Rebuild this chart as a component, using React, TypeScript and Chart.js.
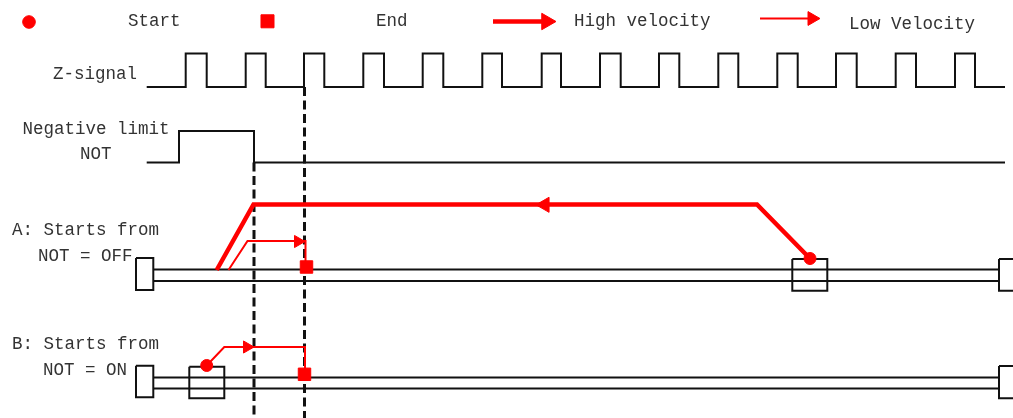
import React, { useEffect, useRef } from "react";
import { Chart, registerables } from "chart.js";

Chart.register(...registerables);

// ---- Coordinate frame (diagram units) ----
const X_RANGE = [0, 1013];
const Y_RANGE = [0, 418];

// ---- Z-signal pulse edges ----
const zRise = [185.7, 245.7, 304, 363.3, 422.7, 482.3, 541.7, 600, 659, 718.3, 777.3, 836, 895.7, 955];
const zFall = [206.7, 265.7, 324.3, 384, 443.3, 502, 561, 620.7, 679.3, 738.3, 797.7, 856.7, 916, 975];
const zLevels = [87, 53.5]; // low, high
const signalSpan = [146.7, 1005];

// ---- Negative limit (NOT) edges ----
const notRise = [179];
const notFall = [254];
const notLevels = [162.5, 131];

// ---- Reference (dashed) instants ----
const dashedX = [254, 304.5];
const dashedTop = [162.5, 87];
const dashedBottom = 418;

// ---- Tracks ----
const trackRailsA = [269.5, 281];
const trackRailsB = [377.5, 388.5];
const trackSpan = [153.3, 999];
// boxes: [x1, y1, x2, y2]
const boxesA = [
  [136, 258, 153.3, 290],
  [792.3, 259, 827.3, 290.7],
  [999, 259, 1018, 290.7],
];
const boxesB = [
  [136, 365.7, 153.3, 397.3],
  [189.3, 366.7, 224.3, 398.3],
  [999, 366, 1018, 398.3],
];

// ---- Motion paths ----
const highA = [
  { x: 810, y: 258.5 },
  { x: 757, y: 204.5 },
  { x: 253.5, y: 204.5 },
  { x: 216.7, y: 270 },
];
const lowA = [
  { x: 228.5, y: 270 },
  { x: 247.5, y: 241 },
  { x: 305.5, y: 241 },
  { x: 305.5, y: 267 },
];
const lowB = [
  { x: 206.7, y: 365.5 },
  { x: 224.3, y: 347 },
  { x: 305, y: 347 },
  { x: 305, y: 374 },
];

// ---- Markers ----
const startPoints = [{ x: 810, y: 258.5 }, { x: 206.7, y: 365.5 }];
const endPoints = [{ x: 306.5, y: 267 }, { x: 304.5, y: 374.3 }];
const highArrowTips = [{ x: 536, y: 204.8, dir: "left" }];
const lowArrowTips = [
  { x: 305, y: 241.5, dir: "right" },
  { x: 254, y: 347, dir: "right" },
];

// ---- Legend ----
const legendLabels = ["Start", "End", "High velocity", "Low Velocity"];
const legendStart = [{ x: 29, y: 22 }];
const legendEnd = [{ x: 267.5, y: 21.3 }];
const legendHighLine = [{ x: 493, y: 21.5 }, { x: 548, y: 21.5 }];
const legendHighTip = [{ x: 556, y: 21.5, dir: "right" }];
const legendLowLine = [{ x: 760, y: 18.5 }, { x: 813, y: 18.5 }];
const legendLowTip = [{ x: 820, y: 18.5, dir: "right" }];

// ---- Row labels ----
const rowLabels = [
  "Z-signal",
  "Negative limit",
  "NOT",
  "A: Starts from",
  "NOT = OFF",
  "B: Starts from",
  "NOT = ON",
];

// layout of texts (x, baseline)
const textLayout = [
  [128, 26], [376, 26], [574, 26], [849, 29],
  [53, 79], [22.5, 133.5], [80, 159], [12, 235], [38, 260.5], [12, 349], [43, 374.5],
];

const RED = "#ff0000";
const BLACK = "#111111";
const TEXT = "#333333";
const FONT = '17.5px "Liberation Mono", monospace';

function stepPath(span: number[], rises: number[], falls: number[], levels: number[]) {
  const [low, high] = levels;
  const pts = [{ x: span[0], y: low }];
  rises.forEach((r, i) => {
    pts.push({ x: r, y: low }, { x: r, y: high }, { x: falls[i], y: high }, { x: falls[i], y: low });
  });
  pts.push({ x: span[1], y: low });
  return pts;
}

function boxPath(b: number[]) {
  const [x1, y1, x2, y2] = b;
  return [
    { x: x1, y: y1 }, { x: x2, y: y1 }, { x: x2, y: y2 }, { x: x1, y: y2 }, { x: x1, y: y1 },
  ];
}

function arrowCenters(tips: { x: number; y: number; dir: string }[], r: number) {
  return tips.map((t) => ({ x: t.dir === "right" ? t.x - r : t.x + r, y: t.y }));
}

const lineDs = (data: any[], color: string, width: number, order: number, extra: any = {}) => ({
  data,
  showLine: true,
  borderColor: color,
  borderWidth: width,
  pointRadius: 0,
  pointHoverRadius: 0,
  fill: false,
  tension: 0,
  clip: false,
  order,
  borderJoinStyle: "miter",
  ...extra,
});

const pointDs = (data: any[], style: string, radius: number, rotation: number, order: number) => ({
  data,
  showLine: false,
  pointStyle: style,
  pointRadius: radius,
  pointHoverRadius: radius,
  pointRotation: rotation,
  backgroundColor: RED,
  borderColor: RED,
  borderWidth: 1,
  clip: false,
  order,
});

const textPlugin = {
  id: "diagramText",
  afterDraw(chart: any) {
    const { ctx, scales } = chart;
    const all = [...legendLabels, ...rowLabels];
    ctx.save();
    ctx.fillStyle = TEXT;
    ctx.font = FONT;
    ctx.textBaseline = "alphabetic";
    ctx.textAlign = "left";
    all.forEach((t, i) => {
      const [x, y] = textLayout[i];
      ctx.fillText(t, scales.x.getPixelForValue(x), scales.y.getPixelForValue(y));
    });
    ctx.restore();
  },
};

export default function App() {
  const ref = useRef<HTMLCanvasElement>(null);
  useEffect(() => {
    document.body.style.margin = "0";
    const datasets: any[] = [];
    // signals
    datasets.push(lineDs(stepPath(signalSpan, zRise, zFall, zLevels), BLACK, 2, 5));
    datasets.push(lineDs(stepPath(signalSpan, notRise, notFall, notLevels), BLACK, 2, 5));
    // rails
    [...trackRailsA, ...trackRailsB].forEach((y) => {
      datasets.push(lineDs([{ x: trackSpan[0], y }, { x: trackSpan[1], y }], BLACK, 2, 5));
    });
    [...boxesA, ...boxesB].forEach((b) => datasets.push(lineDs(boxPath(b), BLACK, 2, 5)));
    // dashed
    dashedX.forEach((x, i) => {
      datasets.push(
        lineDs([{ x, y: dashedTop[i] }, { x, y: dashedBottom }], BLACK, 3, 4, { borderDash: [9, 4.5] })
      );
    });
    // motion
    datasets.push(lineDs(highA, RED, 4.5, 2));
    datasets.push(lineDs(lowA, RED, 2, 2));
    datasets.push(lineDs(lowB, RED, 2, 2));
    datasets.push(lineDs(legendHighLine, RED, 4.5, 2));
    datasets.push(lineDs(legendLowLine, RED, 2, 2));
    // markers
    datasets.push(pointDs(startPoints, "circle", 6, 0, 1));
    datasets.push(pointDs(endPoints, "rect", 8.8, 0, 1));
    datasets.push(pointDs(legendStart, "circle", 6.3, 0, 1));
    datasets.push(pointDs(legendEnd, "rect", 9.2, 0, 1));
    datasets.push(pointDs(arrowCenters(highArrowTips, 8.7), "triangle", 8.7, -90, 1));
    datasets.push(pointDs(arrowCenters(lowArrowTips, 7), "triangle", 7, 90, 1));
    datasets.push(pointDs(arrowCenters(legendHighTip, 9.5), "triangle", 9.5, 90, 1));
    datasets.push(pointDs(arrowCenters(legendLowTip, 8), "triangle", 8, 90, 1));

    const chart = new Chart(ref.current as HTMLCanvasElement, {
      type: "scatter",
      data: { datasets },
      options: {
        animation: false,
        responsive: true,
        maintainAspectRatio: false,
        layout: { padding: 0, autoPadding: false },
        events: [],
        plugins: { legend: { display: false }, tooltip: { enabled: false } },
        scales: {
          x: { type: "linear", display: false, min: X_RANGE[0], max: X_RANGE[1] },
          y: { type: "linear", display: false, min: Y_RANGE[0], max: Y_RANGE[1], reverse: true },
        },
      } as any,
      plugins: [textPlugin],
    });
    return () => chart.destroy();
  }, []);
  return (
    <div style={{ position: "relative", width: 1013, height: 418, background: "#fff" }}>
      <canvas ref={ref} />
    </div>
  );
}
